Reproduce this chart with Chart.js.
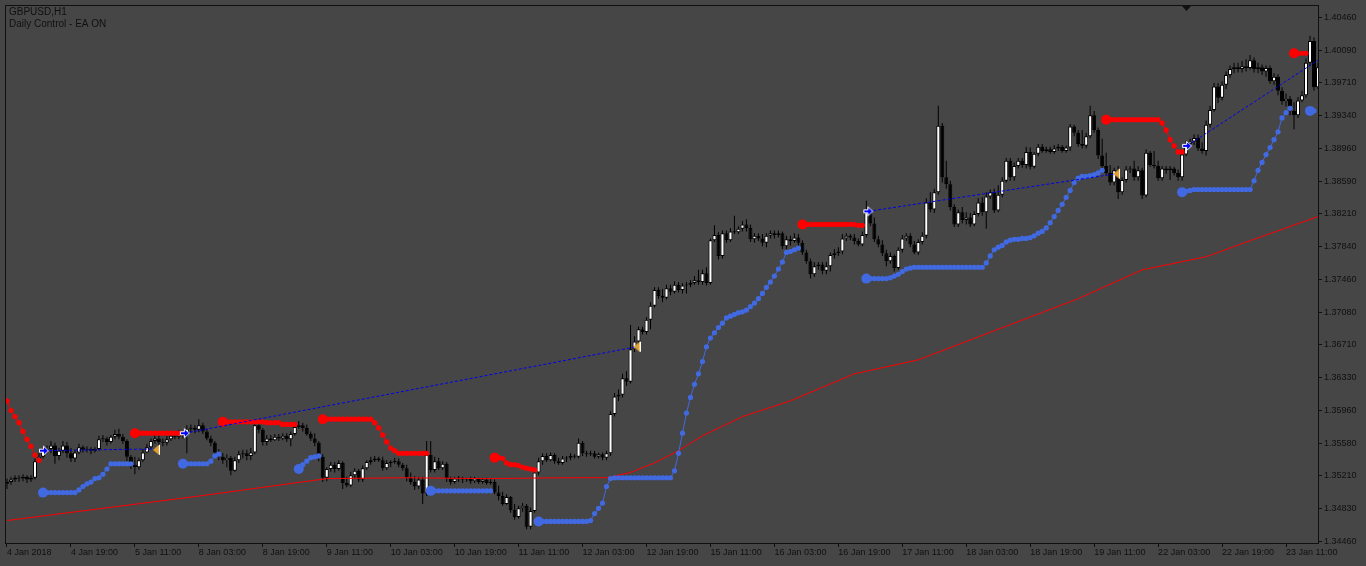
<!DOCTYPE html>
<html>
<head>
<meta charset="utf-8">
<title>GBPUSD,H1</title>
<script src="https://cdn.jsdelivr.net/npm/chart.js@4.4.1/dist/chart.umd.min.js"></script>
<style>
  html, body { margin: 0; padding: 0; background: #464646; }
  #wrap { width: 1366px; height: 566px; }
</style>
</head>
<body>
<div id="wrap"><canvas id="chart" width="1366" height="566"></canvas></div>
<script>
// GBPUSD H1, 4 Jan - 23 Jan 2018. One entry per hourly bar, open = previous close
const firstOpen = 1.3512;
const closes = [
  1.3514, 1.3517, 1.3519, 1.3518, 1.3520, 1.3517, 1.3519, 1.3538, 1.3543, 1.3550,
  1.3552, 1.3556, 1.3544, 1.3550, 1.3556, 1.3547, 1.3541, 1.3548, 1.3554, 1.3551,
  1.3552, 1.3550, 1.3552, 1.3563, 1.3564, 1.3560, 1.3566, 1.3569, 1.3566, 1.3561,
  1.3543, 1.3534, 1.3531, 1.3539, 1.3548, 1.3554, 1.3561, 1.3564, 1.3560, 1.3559,
  1.3563, 1.3567, 1.3566, 1.3569, 1.3568, 1.3575, 1.3576, 1.3574, 1.3579, 1.3572,
  1.3564, 1.3559, 1.3548, 1.3543, 1.3539, 1.3542, 1.3527, 1.3539, 1.3546, 1.3547,
  1.3544, 1.3548, 1.3579, 1.3574, 1.3560, 1.3564, 1.3562, 1.3566, 1.3564, 1.3567,
  1.3563, 1.3569, 1.3577, 1.3579, 1.3576, 1.3569, 1.3564, 1.3559, 1.3543, 1.3519,
  1.3529, 1.3534, 1.3529, 1.3536, 1.3513, 1.3510, 1.3522, 1.3527, 1.3517, 1.3530,
  1.3537, 1.3539, 1.3541, 1.3539, 1.3530, 1.3536, 1.3537, 1.3538, 1.3534, 1.3530,
  1.3519, 1.3514, 1.3509, 1.3517, 1.3501, 1.3545, 1.3528, 1.3538, 1.3530, 1.3535,
  1.3518, 1.3514, 1.3518, 1.3519, 1.3517, 1.3518, 1.3515, 1.3518, 1.3514, 1.3517,
  1.3513, 1.3514, 1.3502, 1.3498, 1.3489, 1.3497, 1.3482, 1.3474, 1.3484, 1.3487,
  1.3463, 1.3481, 1.3525, 1.3538, 1.3544, 1.3539, 1.3545, 1.3538, 1.3536, 1.3541,
  1.3542, 1.3544, 1.3543, 1.3559, 1.3547, 1.3546, 1.3547, 1.3543, 1.3546, 1.3542,
  1.3547, 1.3592, 1.3612, 1.3614, 1.3633, 1.3629, 1.3666, 1.3675, 1.3689, 1.3686,
  1.3700, 1.3716, 1.3734, 1.3727, 1.3725, 1.3736, 1.3732, 1.3740, 1.3734, 1.3739,
  1.3740, 1.3742, 1.3745, 1.3743, 1.3753, 1.3742, 1.3791, 1.3797, 1.3773, 1.3799,
  1.3791, 1.3801, 1.3800, 1.3804, 1.3809, 1.3805, 1.3792, 1.3796, 1.3793, 1.3788,
  1.3796, 1.3799, 1.3797, 1.3799, 1.3784, 1.3792, 1.3790, 1.3794, 1.3788, 1.3777,
  1.3767, 1.3752, 1.3761, 1.3763, 1.3756, 1.3761, 1.3774, 1.3776, 1.3778, 1.3793,
  1.3796, 1.3794, 1.3790, 1.3786, 1.3797, 1.3823, 1.3810, 1.3792, 1.3786, 1.3776,
  1.3767, 1.3773, 1.3759, 1.3780, 1.3793, 1.3796, 1.3786, 1.3777, 1.3789, 1.3796,
  1.3834, 1.3826, 1.3846, 1.3922, 1.3863, 1.3855, 1.3829, 1.3809, 1.3823, 1.3814,
  1.3817, 1.3809, 1.3821, 1.3834, 1.3823, 1.3841, 1.3846, 1.3825, 1.3843, 1.3859,
  1.3882, 1.3863, 1.3876, 1.3882, 1.3877, 1.3892, 1.3875, 1.3890, 1.3898, 1.3893,
  1.3895, 1.3892, 1.3896, 1.3898, 1.3893, 1.3897, 1.3921, 1.3914, 1.3901, 1.3899,
  1.3910, 1.3934, 1.3917, 1.3888, 1.3876, 1.3868, 1.3857, 1.3871, 1.3846, 1.3860,
  1.3872, 1.3873, 1.3863, 1.3871, 1.3842, 1.3891, 1.3877, 1.3876, 1.3862, 1.3873,
  1.3871, 1.3873, 1.3868, 1.3863, 1.3889, 1.3901, 1.3904, 1.3908, 1.3896, 1.3893,
  1.3923, 1.3940, 1.3967, 1.3954, 1.3969, 1.3980, 1.3987, 1.3989, 1.3987, 1.3990,
  1.3988, 1.3997, 1.3987, 1.3989, 1.3984, 1.3988, 1.3973, 1.3978, 1.3962, 1.3950,
  1.3953, 1.3939, 1.3934, 1.3951, 1.3957, 1.3994, 1.4019, 1.3966, 1.3989
];
const highs = [
  1.3518, 1.3520, 1.3522, 1.3522, 1.3523, 1.3522, 1.3522, 1.3541, 1.3547, 1.3553,
  1.3556, 1.3561, 1.3559, 1.3553, 1.3561, 1.3560, 1.3553, 1.3551, 1.3558, 1.3556,
  1.3555, 1.3554, 1.3554, 1.3567, 1.3568, 1.3566, 1.3568, 1.3574, 1.3575, 1.3569,
  1.3563, 1.3545, 1.3543, 1.3542, 1.3552, 1.3558, 1.3564, 1.3568, 1.3569, 1.3564,
  1.3567, 1.3570, 1.3571, 1.3574, 1.3572, 1.3579, 1.3580, 1.3579, 1.3586, 1.3582,
  1.3575, 1.3567, 1.3561, 1.3552, 1.3547, 1.3546, 1.3544, 1.3543, 1.3550, 1.3551,
  1.3551, 1.3553, 1.3585, 1.3583, 1.3576, 1.3568, 1.3568, 1.3569, 1.3569, 1.3570,
  1.3570, 1.3572, 1.3580, 1.3584, 1.3582, 1.3580, 1.3572, 1.3570, 1.3561, 1.3546,
  1.3531, 1.3537, 1.3537, 1.3539, 1.3538, 1.3520, 1.3526, 1.3530, 1.3529, 1.3533,
  1.3539, 1.3543, 1.3544, 1.3543, 1.3543, 1.3539, 1.3539, 1.3542, 1.3541, 1.3536,
  1.3534, 1.3525, 1.3521, 1.3520, 1.3520, 1.3561, 1.3561, 1.3543, 1.3542, 1.3538,
  1.3537, 1.3520, 1.3520, 1.3521, 1.3520, 1.3519, 1.3520, 1.3520, 1.3519, 1.3519,
  1.3519, 1.3518, 1.3517, 1.3510, 1.3503, 1.3500, 1.3498, 1.3489, 1.3487, 1.3490,
  1.3489, 1.3485, 1.3527, 1.3542, 1.3547, 1.3547, 1.3548, 1.3547, 1.3542, 1.3544,
  1.3544, 1.3547, 1.3546, 1.3564, 1.3561, 1.3550, 1.3550, 1.3550, 1.3548, 1.3548,
  1.3550, 1.3595, 1.3616, 1.3620, 1.3638, 1.3641, 1.3694, 1.3681, 1.3692, 1.3692,
  1.3703, 1.3720, 1.3737, 1.3737, 1.3735, 1.3740, 1.3740, 1.3744, 1.3743, 1.3742,
  1.3743, 1.3745, 1.3750, 1.3757, 1.3757, 1.3760, 1.3793, 1.3808, 1.3800, 1.3802,
  1.3802, 1.3805, 1.3819, 1.3807, 1.3813, 1.3815, 1.3809, 1.3799, 1.3799, 1.3798,
  1.3799, 1.3802, 1.3802, 1.3802, 1.3801, 1.3796, 1.3796, 1.3799, 1.3798, 1.3791,
  1.3780, 1.3770, 1.3766, 1.3766, 1.3766, 1.3766, 1.3777, 1.3781, 1.3783, 1.3798,
  1.3799, 1.3798, 1.3798, 1.3793, 1.3801, 1.3836, 1.3827, 1.3817, 1.3796, 1.3791,
  1.3780, 1.3777, 1.3775, 1.3783, 1.3797, 1.3799, 1.3799, 1.3790, 1.3792, 1.3800,
  1.3839, 1.3846, 1.3850, 1.3945, 1.3925, 1.3882, 1.3859, 1.3832, 1.3826, 1.3829,
  1.3823, 1.3822, 1.3824, 1.3839, 1.3840, 1.3846, 1.3849, 1.3850, 1.3854, 1.3863,
  1.3885, 1.3885, 1.3880, 1.3885, 1.3885, 1.3898, 1.3897, 1.3892, 1.3901, 1.3901,
  1.3898, 1.3898, 1.3900, 1.3901, 1.3900, 1.3899, 1.3924, 1.3923, 1.3917, 1.3917,
  1.3914, 1.3945, 1.3939, 1.3920, 1.3907, 1.3891, 1.3877, 1.3874, 1.3876, 1.3863,
  1.3876, 1.3876, 1.3882, 1.3876, 1.3874, 1.3895, 1.3893, 1.3893, 1.3882, 1.3876,
  1.3876, 1.3876, 1.3875, 1.3872, 1.3891, 1.3905, 1.3907, 1.3912, 1.3912, 1.3903,
  1.3928, 1.3945, 1.3971, 1.3971, 1.3973, 1.3984, 1.3991, 1.3994, 1.3994, 1.3996,
  1.3998, 1.4003, 1.4000, 1.3994, 1.3992, 1.3991, 1.3991, 1.3982, 1.3981, 1.3966,
  1.3959, 1.3956, 1.3949, 1.3955, 1.3962, 1.3999, 1.4025, 1.4023, 1.3994
];
const lows = [
  1.3506, 1.3511, 1.3514, 1.3514, 1.3515, 1.3513, 1.3514, 1.3517, 1.3536, 1.3541,
  1.3547, 1.3547, 1.3535, 1.3539, 1.3547, 1.3542, 1.3537, 1.3537, 1.3546, 1.3548,
  1.3548, 1.3546, 1.3548, 1.3550, 1.3560, 1.3556, 1.3558, 1.3563, 1.3563, 1.3558,
  1.3538, 1.3529, 1.3523, 1.3528, 1.3537, 1.3547, 1.3552, 1.3558, 1.3555, 1.3555,
  1.3556, 1.3561, 1.3563, 1.3563, 1.3564, 1.3547, 1.3571, 1.3570, 1.3571, 1.3569,
  1.3562, 1.3555, 1.3544, 1.3539, 1.3535, 1.3531, 1.3522, 1.3526, 1.3536, 1.3541,
  1.3539, 1.3539, 1.3546, 1.3570, 1.3556, 1.3556, 1.3560, 1.3561, 1.3561, 1.3562,
  1.3560, 1.3555, 1.3567, 1.3575, 1.3572, 1.3567, 1.3561, 1.3555, 1.3538, 1.3514,
  1.3515, 1.3526, 1.3525, 1.3527, 1.3506, 1.3508, 1.3508, 1.3518, 1.3514, 1.3514,
  1.3528, 1.3534, 1.3537, 1.3537, 1.3527, 1.3528, 1.3531, 1.3535, 1.3531, 1.3527,
  1.3515, 1.3511, 1.3505, 1.3506, 1.3489, 1.3498, 1.3525, 1.3525, 1.3528, 1.3528,
  1.3514, 1.3511, 1.3512, 1.3514, 1.3513, 1.3514, 1.3512, 1.3513, 1.3512, 1.3512,
  1.3511, 1.3511, 1.3500, 1.3493, 1.3487, 1.3488, 1.3479, 1.3471, 1.3472, 1.3480,
  1.3460, 1.3460, 1.3479, 1.3522, 1.3534, 1.3537, 1.3538, 1.3535, 1.3534, 1.3534,
  1.3537, 1.3539, 1.3541, 1.3541, 1.3544, 1.3543, 1.3544, 1.3541, 1.3541, 1.3539,
  1.3539, 1.3544, 1.3589, 1.3607, 1.3611, 1.3624, 1.3627, 1.3663, 1.3669, 1.3683,
  1.3683, 1.3689, 1.3714, 1.3724, 1.3720, 1.3723, 1.3728, 1.3730, 1.3731, 1.3730,
  1.3730, 1.3737, 1.3740, 1.3740, 1.3740, 1.3739, 1.3740, 1.3789, 1.3769, 1.3770,
  1.3788, 1.3789, 1.3798, 1.3798, 1.3801, 1.3801, 1.3789, 1.3788, 1.3790, 1.3784,
  1.3783, 1.3793, 1.3793, 1.3794, 1.3781, 1.3781, 1.3785, 1.3788, 1.3784, 1.3774,
  1.3764, 1.3747, 1.3749, 1.3757, 1.3752, 1.3752, 1.3755, 1.3770, 1.3773, 1.3775,
  1.3790, 1.3791, 1.3786, 1.3784, 1.3784, 1.3794, 1.3807, 1.3789, 1.3783, 1.3773,
  1.3761, 1.3764, 1.3755, 1.3757, 1.3777, 1.3790, 1.3783, 1.3775, 1.3774, 1.3786,
  1.3793, 1.3823, 1.3822, 1.3843, 1.3857, 1.3850, 1.3825, 1.3806, 1.3806, 1.3810,
  1.3809, 1.3806, 1.3807, 1.3818, 1.3819, 1.3804, 1.3838, 1.3822, 1.3823, 1.3840,
  1.3857, 1.3859, 1.3859, 1.3873, 1.3874, 1.3873, 1.3872, 1.3873, 1.3887, 1.3891,
  1.3891, 1.3890, 1.3890, 1.3893, 1.3891, 1.3891, 1.3893, 1.3910, 1.3898, 1.3896,
  1.3896, 1.3908, 1.3914, 1.3884, 1.3873, 1.3865, 1.3854, 1.3854, 1.3838, 1.3843,
  1.3857, 1.3868, 1.3859, 1.3859, 1.3838, 1.3840, 1.3875, 1.3873, 1.3859, 1.3859,
  1.3867, 1.3860, 1.3865, 1.3859, 1.3859, 1.3887, 1.3898, 1.3900, 1.3893, 1.3890,
  1.3888, 1.3920, 1.3938, 1.3948, 1.3951, 1.3964, 1.3977, 1.3982, 1.3983, 1.3983,
  1.3984, 1.3986, 1.3983, 1.3982, 1.3980, 1.3978, 1.3970, 1.3969, 1.3957, 1.3946,
  1.3944, 1.3934, 1.3918, 1.3931, 1.3949, 1.3954, 1.3991, 1.3962, 1.3964
];

// time axis, one label every 16 bars
const timeTicks = [0, 16, 32, 48, 64, 80, 96, 112, 128, 144, 160, 176, 192, 208, 224, 240, 256, 272, 288, 304, 320];
const timeLabels = ["4 Jan 2018", "4 Jan 19:00", "5 Jan 11:00", "8 Jan 03:00", "8 Jan 19:00", "9 Jan 11:00",
  "10 Jan 03:00", "10 Jan 19:00", "11 Jan 11:00", "12 Jan 03:00", "12 Jan 19:00", "15 Jan 11:00",
  "16 Jan 03:00", "16 Jan 19:00", "17 Jan 11:00", "18 Jan 03:00", "18 Jan 19:00", "19 Jan 11:00",
  "22 Jan 03:00", "22 Jan 19:00", "23 Jan 11:00"];

// price scale, bottom to top, as the terminal prints it
const priceLabels = ["1.34460", "1.34830", "1.35210", "1.35580", "1.35960", "1.36330", "1.36710", "1.37080",
  "1.37460", "1.37840", "1.38210", "1.38590", "1.38960", "1.39340", "1.39710", "1.40090", "1.40460"];
const priceBottom = 1.34460;
const priceStep = 0.00375;

// slow moving average (thin red line)
const maBars = [0, 24, 48, 64, 80, 100, 120, 140, 150, 156, 162, 168, 174, 184, 196, 212, 228, 240, 256, 268, 284, 300, 312, 328];
const maVals = [1.3470, 1.3484, 1.3498, 1.3508, 1.3518, 1.3519, 1.3518, 1.3519, 1.3519, 1.3525, 1.3536, 1.3550,
  1.3567, 1.3589, 1.3607, 1.3638, 1.3654, 1.3675, 1.3703, 1.3724, 1.3757, 1.3772, 1.3792, 1.3818];

// trailing stop above price (red dots), one run per start bar
const resStart = [0, 32, 54, 79, 122, 199, 275, 322];
const resVals = [
  [1.3607, 1.3596, 1.3589, 1.3582, 1.3572, 1.3563, 1.3555, 1.3545, 1.3539],
  [1.3570, 1.3570, 1.3570, 1.3570, 1.3570, 1.3570, 1.3570, 1.3570, 1.3570, 1.3570, 1.3570, 1.3570],
  [1.3583, 1.3583, 1.3583, 1.3583, 1.3583, 1.3583, 1.3583, 1.3583, 1.3583, 1.3583, 1.3583,
   1.3582, 1.3582, 1.3582, 1.3582, 1.3580, 1.3580, 1.3580, 1.3580],
  [1.3586, 1.3586, 1.3586, 1.3586, 1.3586, 1.3586, 1.3586, 1.3586, 1.3586, 1.3586, 1.3586, 1.3586, 1.3586,
   1.3582, 1.3576, 1.3568, 1.3560, 1.3553, 1.3550,
   1.3547, 1.3547, 1.3547, 1.3547, 1.3547, 1.3547, 1.3547, 1.3547],
  [1.3542, 1.3542, 1.3541, 1.3536, 1.3534, 1.3534, 1.3533, 1.3531, 1.3530, 1.3529, 1.3528],
  [1.3809, 1.3809, 1.3809, 1.3809, 1.3809, 1.3809, 1.3809, 1.3809, 1.3809, 1.3809, 1.3809, 1.3809, 1.3809, 1.3809,
   1.3808, 1.3808],
  [1.3929, 1.3929, 1.3929, 1.3929, 1.3929, 1.3929, 1.3929, 1.3929, 1.3929, 1.3929, 1.3929, 1.3929, 1.3929, 1.3929,
   1.3925, 1.3917, 1.3906, 1.3899, 1.3892, 1.3892],
  [1.4005, 1.4005, 1.4005, 1.4005]
];

// trailing stop below price (blue dots)
const supStart = [9, 44, 73, 106, 133, 215, 294, 326];
const supVals = [
  [1.3502, 1.3502, 1.3502, 1.3502, 1.3502, 1.3502, 1.3502, 1.3502, 1.3502,
   1.3505, 1.3509, 1.3512, 1.3514, 1.3518, 1.3519, 1.3523, 1.3529, 1.3535,
   1.3535, 1.3535, 1.3535, 1.3535, 1.3535],
  [1.3535, 1.3535, 1.3535, 1.3535, 1.3535, 1.3535, 1.3535, 1.3538, 1.3544, 1.3546],
  [1.3529, 1.3534, 1.3538, 1.3542, 1.3543, 1.3544],
  [1.3504, 1.3504, 1.3504, 1.3504, 1.3504, 1.3504, 1.3504, 1.3504, 1.3504, 1.3504, 1.3504, 1.3504, 1.3504, 1.3504,
   1.3504, 1.3504],
  [1.3469, 1.3469, 1.3469, 1.3469, 1.3469, 1.3469, 1.3469, 1.3469, 1.3469, 1.3469, 1.3469, 1.3469, 1.3469,
   1.3470, 1.3478, 1.3484, 1.3490, 1.3509, 1.3518,
   1.3519, 1.3519, 1.3519, 1.3519, 1.3519, 1.3519, 1.3519, 1.3519, 1.3519, 1.3519, 1.3519, 1.3519, 1.3519, 1.3519,
   1.3519,
   1.3527, 1.3547, 1.3570, 1.3593, 1.3611, 1.3626, 1.3638, 1.3652, 1.3669, 1.3679, 1.3685, 1.3691, 1.3696,
   1.3702, 1.3704, 1.3706, 1.3708, 1.3709, 1.3711, 1.3715, 1.3719, 1.3724, 1.3730, 1.3737, 1.3743, 1.3750,
   1.3758, 1.3766, 1.3777, 1.3778, 1.3780, 1.3782],
  [1.3747, 1.3747, 1.3747, 1.3747, 1.3747, 1.3747, 1.3748, 1.3750, 1.3752, 1.3755, 1.3758, 1.3759,
   1.3760, 1.3760, 1.3760, 1.3760, 1.3760, 1.3760, 1.3760, 1.3760, 1.3760, 1.3760, 1.3760, 1.3760, 1.3760,
   1.3760, 1.3760, 1.3760, 1.3760, 1.3760,
   1.3765, 1.3773, 1.3780, 1.3783, 1.3785, 1.3789, 1.3791, 1.3792, 1.3792, 1.3793, 1.3793, 1.3794, 1.3796,
   1.3799, 1.3801, 1.3805, 1.3811, 1.3818, 1.3825, 1.3832, 1.3840, 1.3848, 1.3857, 1.3862, 1.3864, 1.3864,
   1.3865, 1.3866, 1.3868, 1.3871],
  [1.3846, 1.3847, 1.3848, 1.3849, 1.3849, 1.3849, 1.3849, 1.3849, 1.3849, 1.3849, 1.3849, 1.3849, 1.3849,
   1.3849, 1.3849, 1.3849, 1.3849, 1.3849, 1.3859, 1.3871, 1.3880, 1.3889, 1.3897, 1.3906, 1.3915, 1.3931,
   1.3937, 1.3942],
  [1.3939, 1.3939]
];

// trade lines drawn by the EA (dashed blue), entry -> exit
const trendX0 = [9.25, 44.5, 215.5, 295.25];
const trendY0 = [1.3550, 1.3570, 1.3824, 1.3899];
const trendX1 = [37.25, 157.5, 277.5, 328];
const trendY1 = [1.3552, 1.3669, 1.3867, 1.3997];

// entry arrows and exit marks
const entryBars = [9.25, 44.5, 215.5, 295.25];
const entryPrices = [1.3550, 1.3570, 1.3824, 1.3899];
const exitBars = [37.25, 157.5, 277.5];
const exitPrices = [1.3551, 1.3669, 1.3867];

const shiftBar = 295;

const BG = '#464646';
const INK = '#101010';
const FONT = "'Liberation Sans', Arial, sans-serif";
const RED = '#ff0000';
const BLUE = '#4169e1';

function openOf(i) {
    return i === 0 ? firstOpen : closes[i - 1];
}

// candles as two floating bar sets: wicks and bodies
const wickData = closes.map((c, i) => ({ x: i, y: [lows[i], highs[i]] }));
const bodyData = closes.map((c, i) => {
    const o = openOf(i);
    return { x: i, y: [Math.min(o, c), Math.max(o, c)] };
});
const bodyFill = closes.map((c, i) => c >= openOf(i) ? '#ffffff' : '#000000');

function dotRuns(starts, vals, color) {
    return starts.map((s, k) => ({
        type: 'line',
        data: vals[k].map((v, j) => ({ x: s + j, y: v })),
        borderColor: color,
        borderWidth: 1,
        pointBackgroundColor: color,
        pointBorderWidth: 0,
        pointRadius: ctx => (ctx.dataIndex === 0 && s > 0) ? 5 : 2.6,
        tension: 0,
        order: 4
    }));
}

function arrowIcon() {
    const c = document.createElement('canvas');
    c.width = 12; c.height = 12;
    const g = c.getContext('2d');
    g.beginPath();
    g.moveTo(1.5, 4.5); g.lineTo(5.5, 4.5); g.lineTo(5.5, 1.5); g.lineTo(10.5, 6);
    g.lineTo(5.5, 10.5); g.lineTo(5.5, 7.5); g.lineTo(1.5, 7.5); g.closePath();
    g.fillStyle = '#0000ff'; g.fill();
    g.strokeStyle = '#ffffff'; g.lineWidth = 1; g.stroke();
    return c;
}

function exitIcon() {
    const c = document.createElement('canvas');
    c.width = 8; c.height = 12;
    const g = c.getContext('2d');
    g.beginPath();
    g.moveTo(1, 6); g.lineTo(7, 1); g.lineTo(7, 11); g.closePath();
    g.fillStyle = '#e0a030'; g.fill();
    g.strokeStyle = '#ffffff'; g.lineWidth = 1;
    g.beginPath(); g.moveTo(7.5, 1); g.lineTo(7.5, 11); g.stroke();
    return c;
}

const trendSets = trendX0.map((x0, k) => ({
    type: 'line',
    data: [{ x: x0, y: trendY0[k] }, { x: trendX1[k], y: trendY1[k] }],
    borderColor: '#0000ee',
    borderWidth: 1,
    borderDash: [3, 2],
    pointRadius: 0,
    order: 3
}));

// background, frame, window captions, chart shift mark
const mt4Frame = {
    id: 'mt4Frame',
    beforeDraw(chart) {
        const { ctx, width, height } = chart;
        ctx.save();
        ctx.fillStyle = BG;
        ctx.fillRect(0, 0, width, height);
        ctx.restore();
    },
    afterDraw(chart) {
        const { ctx, chartArea: a } = chart;
        ctx.save();
        ctx.strokeStyle = INK;
        ctx.lineWidth = 1;
        ctx.strokeRect(a.left - 0.5, a.top - 0.5, a.right - a.left + 1, a.bottom - a.top + 1);

        ctx.fillStyle = INK;
        ctx.font = '10px ' + FONT;
        ctx.textBaseline = 'alphabetic';
        ctx.fillText('GBPUSD,H1', 9, 15);
        ctx.fillText('Daily Control - EA ON', 9, 27);

        const sx = Math.round(chart.scales.x.getPixelForValue(shiftBar)) + 0.5;
        ctx.beginPath();
        ctx.moveTo(sx - 4.5, a.top);
        ctx.lineTo(sx + 4.5, a.top);
        ctx.lineTo(sx, a.top + 5);
        ctx.closePath();
        ctx.fill();
        ctx.restore();
    }
};

const tickFont = { family: FONT, size: 9 };

new Chart(document.getElementById('chart'), {
    type: 'bar',
    data: {
        datasets: [
            {
                data: wickData,
                backgroundColor: '#000000',
                borderWidth: 0,
                barThickness: 1,
                minBarLength: 1,
                grouped: false,
                inflateAmount: 0,
                order: 10
            },
            {
                data: bodyData,
                backgroundColor: bodyFill,
                borderColor: '#000000',
                borderWidth: 1,
                borderSkipped: false,
                barThickness: 4,
                minBarLength: 1,
                grouped: false,
                inflateAmount: 0,
                order: 9
            },
            {
                type: 'line',
                data: maBars.map((b, k) => ({ x: b, y: maVals[k] })),
                borderColor: RED,
                borderWidth: 1,
                pointRadius: 0,
                tension: 0,
                order: 5
            },
            ...dotRuns(resStart, resVals, RED),
            ...dotRuns(supStart, supVals, BLUE),
            ...trendSets,
            {
                type: 'line',
                data: entryBars.map((b, k) => ({ x: b, y: entryPrices[k] })),
                showLine: false,
                pointStyle: arrowIcon(),
                pointRadius: 5,
                order: 1
            },
            {
                type: 'line',
                data: exitBars.map((b, k) => ({ x: b, y: exitPrices[k] })),
                showLine: false,
                pointStyle: exitIcon(),
                pointRadius: 5,
                order: 1
            }
        ]
    },
    options: {
        responsive: false,
        animation: false,
        devicePixelRatio: 1,
        events: [],
        layout: { padding: { left: 5, top: 3, right: 0, bottom: 0 } },
        plugins: {
            legend: { display: false },
            tooltip: { enabled: false }
        },
        scales: {
            x: {
                type: 'linear',
                min: -0.25,
                max: 328,
                offset: false,
                border: { display: false },
                grid: { offset: false, drawOnChartArea: false, drawTicks: true, tickLength: 4, color: INK },
                afterBuildTicks: s => { s.ticks = timeTicks.map(v => ({ value: v })); },
                afterFit: s => { s.height = 23; s.paddingLeft = 0; s.paddingRight = 0; },
                ticks: {
                    callback: (v, i) => timeLabels[i],
                    align: 'start',
                    autoSkip: false,
                    maxRotation: 0,
                    minRotation: 0,
                    padding: 0,
                    color: INK,
                    font: tickFont
                }
            },
            y: {
                type: 'linear',
                position: 'right',
                min: 1.3444292,
                max: 1.4059093,
                border: { display: false },
                grid: { offset: false, drawOnChartArea: false, drawTicks: true, tickLength: 4, color: INK },
                afterBuildTicks: s => { s.ticks = priceLabels.map((t, k) => ({ value: priceBottom + k * priceStep })); },
                afterFit: s => { s.width = 48; s.paddingTop = 0; s.paddingBottom = 0; },
                ticks: {
                    callback: (v, i) => priceLabels[i],
                    autoSkip: false,
                    padding: 2,
                    color: INK,
                    font: tickFont
                }
            }
        }
    },
    plugins: [mt4Frame]
});
</script>
</body>
</html>
